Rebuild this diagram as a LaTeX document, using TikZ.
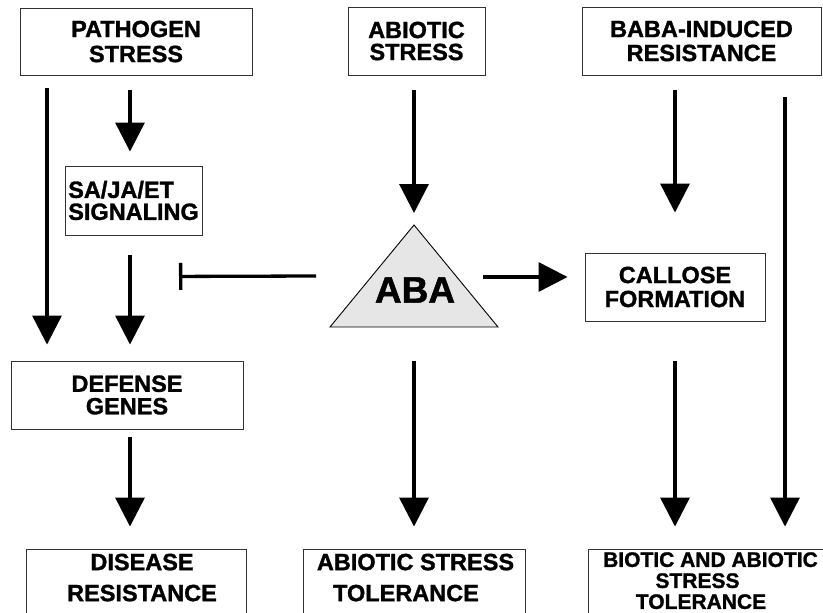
\documentclass[tikz,border=0pt]{standalone}
\usepackage{fontspec}
\setmainfont{Liberation Sans}[BoldFeatures={FakeBold=1.3}]
\usetikzlibrary{arrows.meta,calc}
\definecolor{abagray}{RGB}{230,230,230}
\definecolor{boxline}{RGB}{50,50,50}
\begin{document}
\begin{tikzpicture}[x=1pt,y=-1pt,
  box/.style={draw=boxline, line width=0.9pt, rectangle, inner sep=0pt, align=center},
  f/.style={font=\bfseries\fontsize{23.5}{#1}\selectfont},
  arr/.style={line width=3.3pt, -{Triangle[width=29pt,length=29pt]}},
  inh/.style={line width=3.3pt, -{Bar[width=27pt]}},
  txt/.style={inner sep=0pt, align=center}]
\useasboundingbox (0,0) rectangle (823,613);
\clip (0,0) rectangle (823,613);

% top row
\node[box, f=25, minimum width=232pt, minimum height=67pt] (ps) at (136,41.5) {PATHOGEN\\STRESS};
\node[box, f=22, minimum width=137pt, minimum height=68pt] (as) at (416.5,41) {ABIOTIC\\STRESS};
\node[box, f=24, minimum width=239pt, minimum height=68pt] (baba) at (701.5,41) {BABA-INDUCED\\RESISTANCE};

% middle
\node[box, f=22, align=left, minimum width=137pt, minimum height=69pt] (sig) at (133.5,200.5) {SA/JA/ET\\SIGNALING};
\node[box, f=24, minimum width=180pt, minimum height=68pt] (cal) at (675,287) {CALLOSE\\FORMATION};
\node[box, f=22.5, minimum width=232pt, minimum height=68pt] (def) at (127,395) {DEFENSE\\GENES};

% ABA triangle
\coordinate (abatop) at (414,225);
\coordinate (abal) at (330,327);
\coordinate (abar) at (498,327);
\draw[fill=abagray, line width=0.9pt, line join=miter] (abatop) -- (abar) -- (abal) -- cycle;
\node[txt, font=\bfseries\fontsize{37}{40}\selectfont] (aba) at (415,290) {ABA};

% bottom boxes (cut by the lower edge)
\node[box, minimum width=220pt, minimum height=80pt] (dis) at (136,589) {};
\node[box, minimum width=222pt, minimum height=80pt] (ast) at (414,589) {};
\node[box, minimum width=244pt, minimum height=80pt] (bat) at (710,589) {};
\node[txt, f=31, anchor=north] (dist) at ($(dis.north)+(6,5)$) {DISEASE\\RESISTANCE};
\node[txt, f=31, anchor=north] (astt) at ($(ast.north)+(1.5,5)$) {ABIOTIC STRESS\\\mbox{TOLERANCE\hspace{19pt}}};
\node[txt, font=\bfseries\fontsize{21}{21}\selectfont, anchor=north] (batt) at ($(bat.north)+(0.5,3.5)$) {BIOTIC AND ABIOTIC\\\mbox{STRESS\hspace{26pt}}\\\mbox{TOLERANCE\hspace{19pt}}};

% connectors
\draw[arr] ($(ps.south)+(-89,13)$) -- ($(def.north)+(-80,-16)$);
\draw[arr] ($(ps.south)+(-6,15)$) -- ($(sig.north)+(-3.5,-14)$);
\draw[arr] ($(sig.south)+(-3.5,20)$) -- ($(def.north)+(3,-16)$);
\draw[arr] ($(as.south)+(-2.5,15)$) -- ($(abatop)+(0,-12)$);
\draw[inh] ($(aba)+(-99,-14)$) -- ($(sig.south)+(45.5,41)$);
\draw[arr] ($(aba)+(68,-13)$) -- ($(cal.west)+(-17,-10)$);
\draw[arr] ($(baba.south)+(-26.5,15)$) -- ($(cal.north)+(0,-40)$);
\draw[arr] ($(baba.south)+(83.5,22)$) -- ($(bat.north)+(75,-22)$);
\draw[arr] ($(def.south)+(3,8)$) -- ($(dis.north)+(-6,-22)$);
\draw[arr] ($(aba)+(-1,71)$) -- ($(ast.north)+(0,-22)$);
\draw[arr] ($(cal.south)+(0,40)$) -- ($(bat.north)+(-35,-22)$);
\end{tikzpicture}
\end{document}
